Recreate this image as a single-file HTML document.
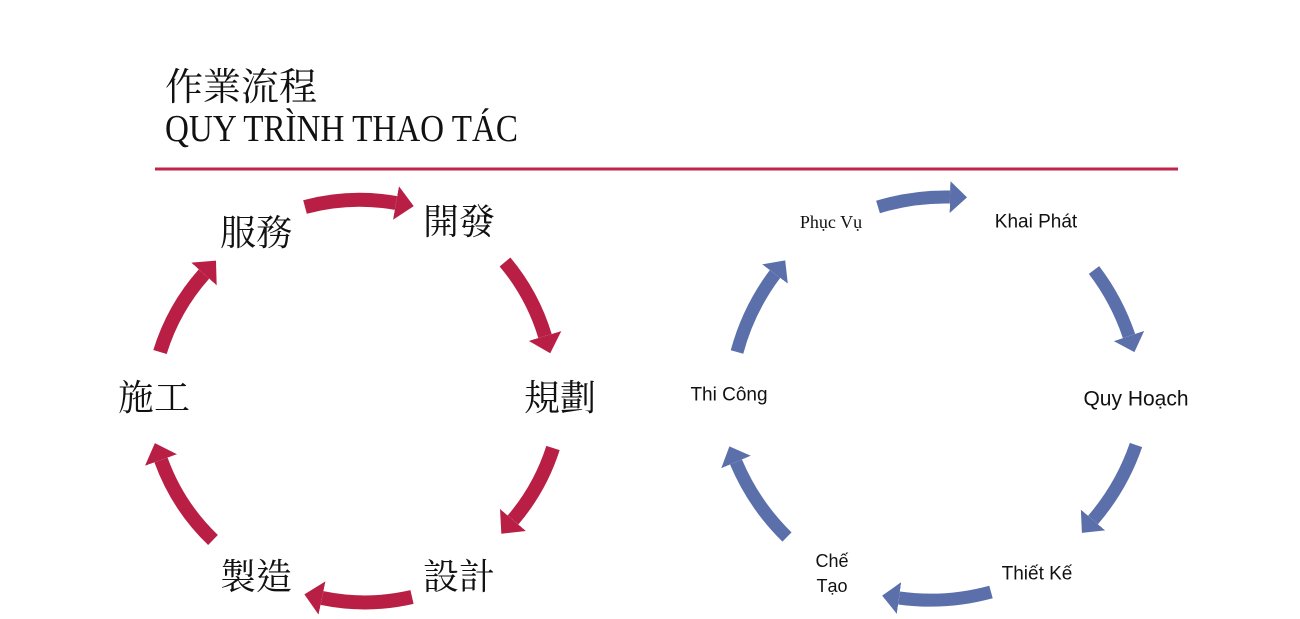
<!DOCTYPE html>
<html><head><meta charset="utf-8"><style>
html,body{margin:0;padding:0;background:#fff;}
svg{display:block;}
.cj{font-family:"Liberation Serif","Noto Serif CJK TC","Noto Serif CJK SC",serif;font-size:36px;fill:#111;}
.sa{font-family:"Liberation Sans",sans-serif;fill:#111;}
</style></head><body>
<svg width="1300" height="619" viewBox="0 0 1300 619" xmlns="http://www.w3.org/2000/svg">
<defs>
<marker id="hr" markerUnits="userSpaceOnUse" markerWidth="24" markerHeight="40" viewBox="0 -20 24 40" refX="0" refY="0" orient="auto"><path d="M0,-17 L18,0 L0,17 z" fill="#b91f45"/></marker>
<marker id="hb" markerUnits="userSpaceOnUse" markerWidth="24" markerHeight="40" viewBox="0 -20 24 40" refX="0" refY="0" orient="auto"><path d="M0,-16 L17,0 L0,16 z" fill="#5b6fab"/></marker>
</defs>
<text x="165" y="100" font-family="'Liberation Serif','Noto Serif CJK TC','Noto Serif CJK SC',serif" font-size="38" fill="#111">作業流程</text>
<text x="165" y="141" font-family="'Liberation Serif',serif" font-size="38" fill="#111" textLength="353" lengthAdjust="spacingAndGlyphs">QUY  TRÌNH  THAO  TÁC</text>
<line x1="155" y1="169" x2="1178" y2="169" stroke="#c0244a" stroke-width="3"/>
<g fill="none" stroke="#b91f45" stroke-width="14" marker-end="url(#hr)">
<path d="M305,207 A210,210 0 0 1 396,203"/>
<path d="M505,262 A210,210 0 0 1 545,336"/>
<path d="M553,448 A210,210 0 0 1 513,520"/>
<path d="M412,597 A210,210 0 0 1 322,598"/>
<path d="M213,540 A210,210 0 0 1 161,460"/>
<path d="M160,352 A210,210 0 0 1 204,274"/>
</g>
<g class="cj" text-anchor="middle" dominant-baseline="central">
<text x="459" y="222">開發</text>
<text x="560" y="398">規劃</text>
<text x="459" y="577">設計</text>
<text x="256" y="577">製造</text>
<text x="154" y="398">施工</text>
<text x="256" y="233">服務</text>
</g>
<g fill="none" stroke="#5b6fab" stroke-width="13" marker-end="url(#hb)">
<path d="M878,207 A230,230 0 0 1 950,197"/>
<path d="M1094,270 A230,230 0 0 1 1129,336"/>
<path d="M1136,445 A230,230 0 0 1 1093,520"/>
<path d="M991,592 A230,230 0 0 1 899,598"/>
<path d="M787,537 A230,230 0 0 1 736,462"/>
<path d="M737,352 A230,230 0 0 1 775,274"/>
</g>
<g text-anchor="middle" dominant-baseline="central">
<text x="831" y="222" font-family="'Liberation Serif',serif" font-size="18" fill="#111">Phục Vụ</text>
<text x="1036" y="222" class="sa" font-size="19">Khai Phát</text>
<text x="1136" y="399" class="sa" font-size="21">Quy Hoạch</text>
<text x="1037" y="574" class="sa" font-size="19">Thiết Kế</text>
<text x="832" y="561" class="sa" font-size="18">Chế</text>
<text x="832" y="586" class="sa" font-size="18">Tạo</text>
<text x="729" y="395" class="sa" font-size="19">Thi Công</text>
</g>
</svg>
</body></html>
